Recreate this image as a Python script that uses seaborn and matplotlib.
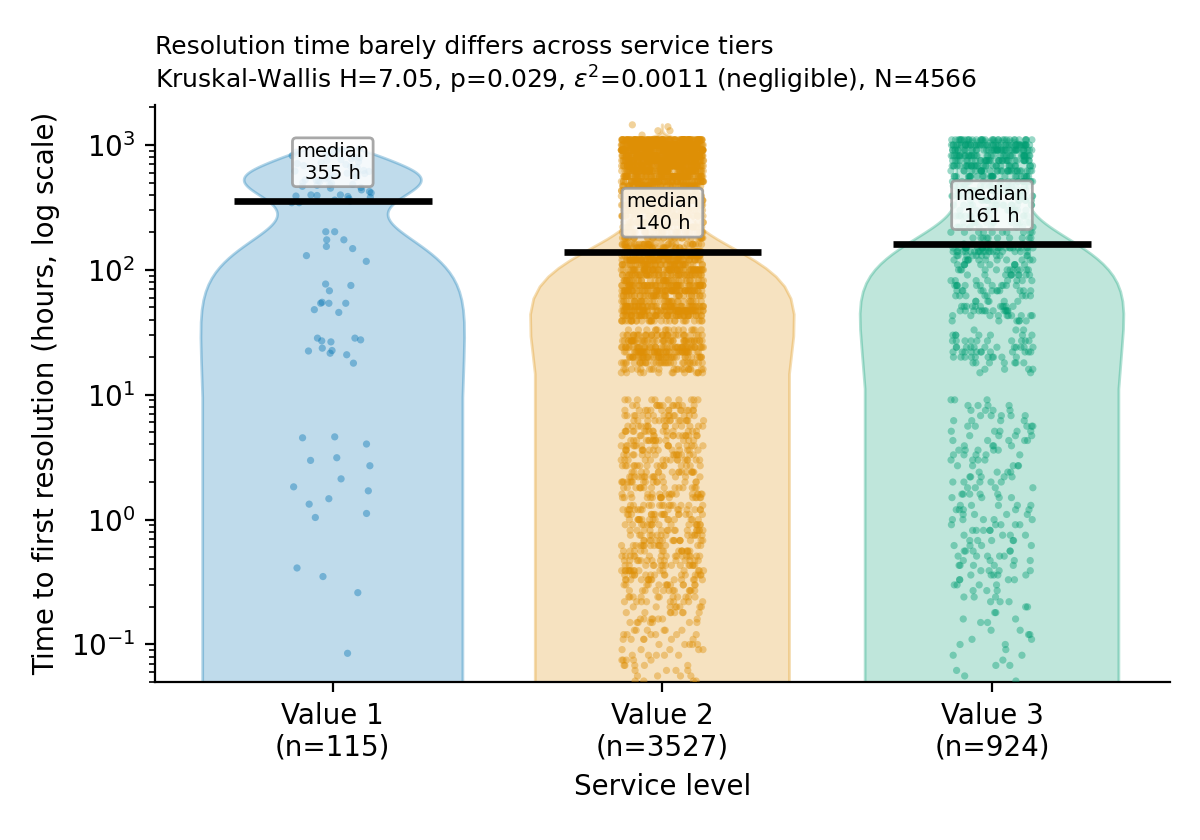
import numpy as np
import pandas as pd
import matplotlib
matplotlib.use("Agg")
import matplotlib.pyplot as plt
import seaborn as sns
from matplotlib.colors import to_rgba

# tiers and colours (seaborn colorblind)
tiers = ["Value 1", "Value 2", "Value 3"]
colors = ["#0173b2", "#de8f05", "#029e73"]

# test statistics shown in the subtitle
kw_h = 7.05
kw_p = 0.029
eps2 = 0.0011

# Value 1: hours to first resolution, read point by point (0 = not shown on log axis)
v1_hours = [0, 0, 0, 0, 0, 0, 0, 0, 0, 0,
            0.085, 0.26, 0.35, 0.41, 1.04, 1.12, 1.33, 1.47, 1.70, 1.83, 2.12, 2.70,
            2.98, 3.13, 4.03, 4.52, 4.60,
            17.9, 20.9, 21.5, 22.4, 22.6, 23.6, 26.5, 27.0, 27.5, 28.4, 28.4,
            45.6, 48.0, 54.0, 54.0, 54.0, 55.0, 68.0, 75.0, 77.0,
            117, 130, 148, 154, 174, 174, 202, 202,
            345, 345, 355,
            362, 371, 380, 387, 390, 394, 398, 398,
            413, 424, 437, 451, 457, 467,
            476, 480, 484, 492, 500, 509, 517, 520, 526, 535, 544, 553, 558, 563, 575,
            584, 590, 594, 604, 614, 618, 625, 636, 649, 660, 672, 684, 697,
            710, 722, 735, 748, 761, 775, 790, 805, 821, 838, 856, 875, 895, 918, 940]

# Value 2: hour levels and how many tickets sit at each level
v2_hours = [0.0,
            0.051, 0.056, 0.062, 0.068, 0.075, 0.082, 0.091, 0.10, 0.11, 0.12, 0.13, 0.15,
            0.16, 0.18, 0.20, 0.22,
            0.24, 0.27, 0.30, 0.33, 0.36, 0.39, 0.43, 0.47, 0.51, 0.56, 0.62, 0.68, 0.75,
            0.82, 0.91,
            1.0, 1.1, 1.2, 1.3, 1.5, 1.6, 1.8, 2.0, 2.2, 2.4, 2.7, 3.0, 3.3, 3.6, 3.9, 4.3,
            4.7, 5.1, 5.6, 6.2, 6.8, 7.5, 8.2, 9.1,
            15, 16, 18, 20, 22, 24, 27, 30, 33,
            39, 43, 47, 51, 56,
            62, 68, 75, 82,
            91, 100, 110,
            120, 130,
            140,
            150, 160, 180, 200, 220, 240, 270, 300, 330, 360, 390, 430, 470, 510, 560, 620,
            680, 750, 820, 910, 1000, 1100,
            1200, 1300, 1400, 1450]
v2_counts = [14,
             4, 4, 4, 5, 5, 5, 5, 5, 6, 6, 6, 7,
             7, 8, 8, 9,
             11, 12, 13, 14, 15, 16, 15, 14, 16, 15, 15, 16, 14,
             15, 16,
             15, 16, 15, 14, 16, 15, 15, 16, 14, 15, 16, 15, 15, 14, 16, 15,
             15, 16, 14, 15, 15, 14, 13, 10,
             12, 20, 32, 42, 48, 50, 46, 34, 16,
             30, 55, 70, 60, 35,
             40, 65, 65, 40,
             55, 70, 50,
             70, 56,
             50,
             27, 36, 35, 35, 35, 44, 52, 52, 52, 52, 61, 70, 70, 79, 96, 105,
             114, 122, 140, 157, 166, 132,
             1, 2, 1, 1]

# Value 3: hour levels and counts
v3_hours = [0.0,
            0.051, 0.056, 0.062, 0.068, 0.075, 0.082, 0.091, 0.10, 0.11, 0.12, 0.13, 0.15,
            0.16, 0.18, 0.20, 0.22,
            0.24, 0.27, 0.30, 0.33, 0.36, 0.39, 0.43, 0.47, 0.51, 0.56, 0.62, 0.68, 0.75,
            0.82, 0.91,
            1.0, 1.1, 1.2, 1.3, 1.5, 1.6, 1.8, 2.0, 2.2, 2.4, 2.7, 3.0, 3.3, 3.6, 3.9, 4.3,
            4.7, 5.1, 5.6, 6.2, 6.8, 7.5, 8.2, 9.1,
            15, 16, 18, 20, 22, 24, 27, 30, 33,
            39, 43, 47, 51, 56,
            62, 68, 75, 82,
            91, 100, 110,
            120, 130,
            140, 150, 161,
            180, 200, 220, 240, 270, 300, 330, 360, 390, 430, 470, 510, 560, 620,
            680, 750, 820, 910, 1000, 1100]
v3_counts = [4,
             1, 1, 1, 2, 1, 2, 1, 2, 2, 2, 2, 2,
             2, 2, 2, 3,
             3, 3, 4, 4, 5, 4, 5, 4, 5, 5, 4, 5, 4,
             5, 5,
             5, 4, 5, 5, 4, 5, 4, 5, 5, 4, 5, 4, 5, 5, 4, 5,
             4, 5, 5, 4, 5, 4, 4, 3,
             2, 4, 7, 10, 12, 12, 10, 7, 3,
             6, 10, 13, 11, 6,
             8, 12, 12, 8,
             10, 12, 10,
             12, 11,
             20, 26, 6,
             10, 10, 10, 12, 14, 14, 14, 14, 17, 19, 19, 22, 26, 29,
             31, 34, 38, 43, 49, 34]

df = pd.concat([
    pd.DataFrame({"tier": tiers[0], "hours": v1_hours}),
    pd.DataFrame({"tier": tiers[1], "hours": np.repeat(v2_hours, v2_counts)}),
    pd.DataFrame({"tier": tiers[2], "hours": np.repeat(v3_hours, v3_counts)}),
], ignore_index=True)

counts = df.groupby("tier")["hours"].size().reindex(tiers)
medians = df.groupby("tier")["hours"].median().reindex(tiers)

fig, ax = plt.subplots(figsize=(6, 4.2), dpi=200)

# density is estimated on the raw hours, axis switched to log afterwards
sns.violinplot(data=df, x="tier", y="hours", hue="tier", order=tiers, hue_order=tiers,
               palette=colors, cut=0, density_norm="width", inner=None, width=0.8,
               saturation=1, linewidth=1, legend=False, ax=ax)
for coll, c in zip(ax.collections, colors):
    coll.set_facecolor(to_rgba(c, 0.25))
    coll.set_edgecolor(to_rgba(c, 0.3))

np.random.seed(7)
sns.stripplot(data=df, x="tier", y="hours", hue="tier", order=tiers, hue_order=tiers,
              palette=colors, jitter=0.125, size=2.6, alpha=0.4, linewidth=0,
              legend=False, ax=ax)

ax.set_yscale("log")
ax.set_ylim(0.05, 2090)
ax.set_xlim(-0.54, 2.54)

for i, t in enumerate(tiers):
    m = medians[t]
    ax.hlines(m, i - 0.3, i + 0.3, color="black", lw=2.4, zorder=4)
    ax.annotate(f"median\n{m:.0f} h", xy=(i, m), xytext=(0, 14), textcoords="offset points",
                ha="center", va="center", fontsize=7, zorder=5,
                bbox=dict(boxstyle="round,pad=0.2", fc="white", ec="0.6", alpha=0.85))

ax.set_xticks(range(len(tiers)))
ax.set_xticklabels([f"{t}\n(n={counts[t]})" for t in tiers])
ax.set_xlabel("Service level")
ax.set_ylabel("Time to first resolution (hours, log scale)")
ax.set_title("Resolution time barely differs across service tiers\n"
             f"Kruskal-Wallis H={kw_h}, p={kw_p}, $\\varepsilon^2$={eps2} (negligible), N={len(df)}",
             loc="left", fontsize=9)
sns.despine(ax=ax)

fig.subplots_adjust(left=0.129, right=0.975, bottom=0.188, top=0.875)
fig.savefig("out.png", dpi=200)
